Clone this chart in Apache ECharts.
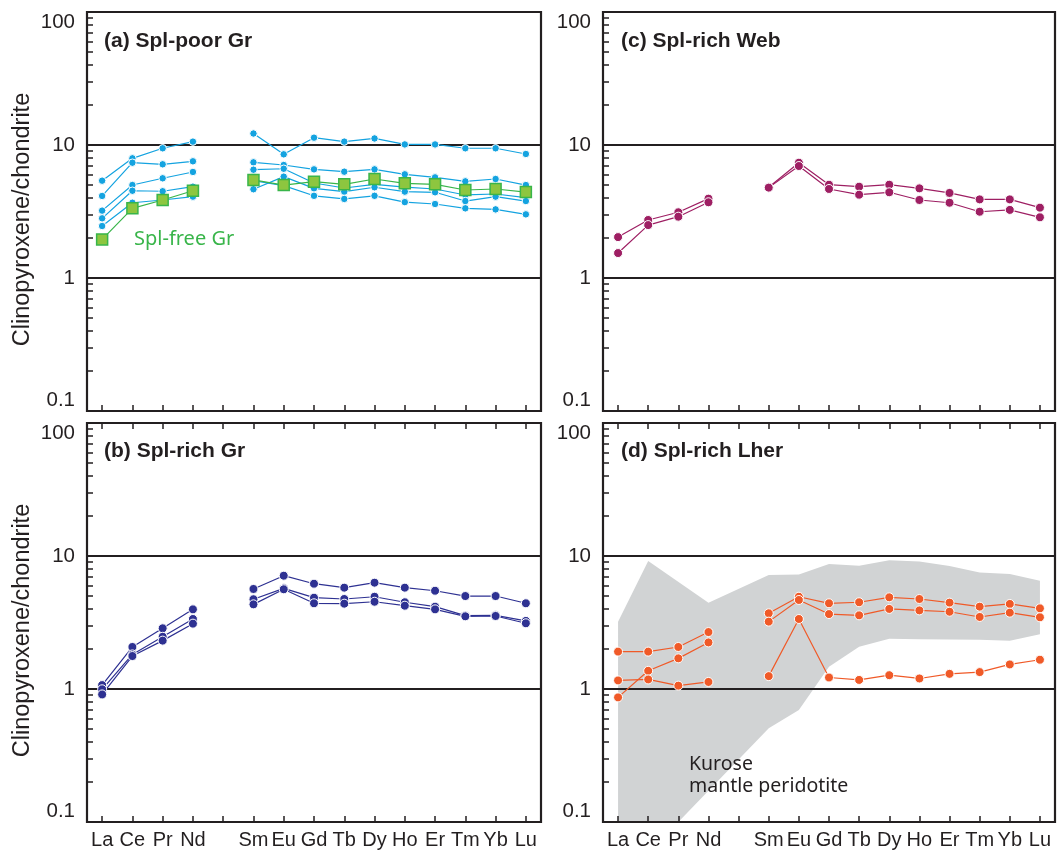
<!DOCTYPE html>
<html>
<head>
<meta charset="utf-8">
<script src="https://cdn.jsdelivr.net/npm/echarts@6/dist/echarts.min.js"></script>
<style>
  html, body { margin: 0; padding: 0; background: #fff; }
  #chart { width: 1058px; height: 854px; }
</style>
</head>
<body>
<div id="chart"></div>
<script>
// Rare earth elements in order (Pm left empty)
const elements = ['La', 'Ce', 'Pr', 'Nd', 'Pm', 'Sm', 'Eu', 'Gd', 'Tb', 'Dy', 'Ho', 'Er', 'Tm', 'Yb', 'Lu'];
const minorTicks = [0.2, 0.3, 0.4, 0.5, 0.6, 0.7, 0.8, 0.9, 2, 3, 4, 5, 6, 7, 8, 9, 20, 30, 40, 50, 60, 70, 80, 90];

// (a) Spl-poor Gr
const splPoorGr1 = [5.39, 7.94, 9.45, 10.6, null, 12.2, 8.51, 11.35, 10.6, 11.2, 10.1, 10.1, 9.45, 9.45, 8.56];
const splPoorGr2 = [4.14, 7.36, 7.16, 7.54, null, 7.41, 7.07, 6.56, 6.30, 6.56, 6.02, 5.71, 5.33, 5.55, 5.00];
const splPoorGr3 = [3.21, 5.00, 5.62, 6.27, null, 6.52, 6.63, 5.18, 4.75, 5.05, 4.83, 4.67, 4.21, 4.28, 4.02];
const splPoorGr4 = [2.81, 4.53, 4.49, 4.86, null, 4.65, 5.78, 4.72, 4.46, 4.81, 4.46, 4.41, 3.79, 4.09, 3.79];
const splPoorGr5 = [2.46, 3.68, 3.86, 4.09, null, 5.40, 4.95, 4.15, 3.93, 4.15, 3.72, 3.60, 3.34, 3.28, 3.01];
const splFreeGr  = [1.95, 3.34, 3.86, 4.53, null, 5.46, 5.00, 5.30, 5.06, 5.55, 5.15, 5.06, 4.59, 4.67, 4.43];

// (b) Spl-rich Gr
const splRichGr1 = [1.07, 2.07, 2.86, 3.97, null, 5.65, 7.11, 6.19, 5.78, 6.30, 5.78, 5.48, 5.00, 5.00, 4.41];
const splRichGr2 = [0.995, 1.82, 2.47, 3.36, null, 4.73, 5.71, 4.86, 4.75, 4.94, 4.49, 4.16, 3.56, 3.58, 3.25];
const splRichGr3 = [0.91, 1.77, 2.31, 3.10, null, 4.33, 5.62, 4.41, 4.38, 4.53, 4.23, 3.97, 3.52, 3.54, 3.12];

// (c) Spl-rich Web
const splRichWeb1 = [2.03, 2.73, 3.12, 3.95, null, 4.81, 7.36, 5.03, 4.86, 5.03, 4.72, 4.36, 3.90, 3.90, 3.38];
const splRichWeb2 = [1.54, 2.50, 2.89, 3.71, null, 4.78, 6.95, 4.67, 4.23, 4.41, 3.86, 3.68, 3.15, 3.25, 2.86];

// (d) Spl-rich Lher
const splRichLher1 = [1.91, 1.91, 2.07, 2.68, null, 3.71, 4.94, 4.41, 4.49, 4.89, 4.75, 4.46, 4.16, 4.36, 4.04];
const splRichLher2 = [0.865, 1.37, 1.70, 2.24, null, 3.21, 4.67, 3.66, 3.58, 4.00, 3.90, 3.81, 3.48, 3.75, 3.46];
const splRichLher3 = [1.16, 1.18, 1.06, 1.13, null, 1.25, 3.36, 1.22, 1.17, 1.27, 1.20, 1.30, 1.34, 1.53, 1.66];

// Kurose mantle peridotite field (element index, normalised value), traced clockwise
const kuroseIdx = [0, 1, 3, 5, 6, 7, 8, 9, 10, 11, 12, 13, 14, 14, 13, 12, 11, 10, 9, 8, 7, 6.17, 5, 2.33, 0];
const kuroseVal = [3.21, 9.17, 4.46, 7.20, 7.27, 8.71, 8.45, 9.29, 9.10, 8.41, 7.50, 7.32, 6.52,
                   2.58, 2.31, 2.35, 2.36, 2.37, 2.39, 2.08, 1.47, 0.695, 0.506, 0.1, 0.1];

const ink = '#231F20';
const sans = '"Liberation Sans", Arial, sans-serif';
const soft = '"Noto Sans", "Open Sans", sans-serif';

const gridBoxes = [
  { left: 87,  top: 12,  width: 454, height: 399 },   // (a)
  { left: 87,  top: 423, width: 454, height: 399 },   // (b)
  { left: 603, top: 12,  width: 452, height: 399 },   // (c)
  { left: 603, top: 423, width: 452, height: 399 }    // (d)
];

const xAxes = [];
const yAxes = [];
gridBoxes.forEach((g, i) => {
  const lowerRow = (i === 1 || i === 3);
  xAxes.push({
    type: 'category', gridIndex: i, data: elements, position: 'bottom', boundaryGap: true,
    axisLine: { show: false },
    axisTick: { show: true, inside: true, length: 6, interval: 0, alignWithLabel: true, lineStyle: { color: ink, width: 1.5 } },
    axisLabel: { show: lowerRow, interval: 0, margin: 8, fontSize: 20, color: ink, fontFamily: sans,
                 formatter: v => (v === 'Pm' ? '' : v) },
    splitLine: { show: false }
  });
  xAxes.push({
    type: 'category', gridIndex: i, data: elements, position: 'top', boundaryGap: true,
    axisLine: { show: false },
    axisTick: { show: lowerRow, inside: true, length: 6, interval: 0, alignWithLabel: true, lineStyle: { color: ink, width: 1.5 } },
    axisLabel: { show: false },
    splitLine: { show: false }
  });
  yAxes.push({
    type: 'log', logBase: 10, gridIndex: i, min: 0.1, max: 100, position: 'left',
    name: i < 2 ? 'Clinopyroxene/chondrite' : '',
    nameLocation: 'middle', nameRotate: 90, nameGap: 52,
    nameTextStyle: { fontSize: 23.5, color: ink, fontFamily: sans, padding: [0, 16, 0, 0] },
    axisLine: { show: false },
    axisTick: { show: false },
    axisLabel: { fontSize: 20.5, color: ink, fontFamily: sans, margin: 12,
                 verticalAlignMinLabel: 'bottom', verticalAlignMaxLabel: 'top',
                 formatter: v => String(parseFloat(Number(v).toPrecision(3))) },
    splitLine: { show: true, lineStyle: { color: ink, width: 1.8 } }
  });
  yAxes.push({
    type: 'log', logBase: 10, gridIndex: i, min: 0.1, max: 100, position: 'left',
    axisLine: { show: false },
    axisLabel: { show: false },
    splitLine: { show: false },
    axisTick: { show: true, inside: true, length: 6, customValues: minorTicks, lineStyle: { color: ink, width: 1.5 } }
  });
});

function sample(grid, values, color, size) {
  return {
    type: 'line', xAxisIndex: grid * 2, yAxisIndex: grid * 2, data: values,
    connectNulls: false, symbol: 'circle', symbolSize: size || 9, showSymbol: true,
    lineStyle: { color: color, width: 1.2 },
    itemStyle: { color: color, borderColor: '#ffffff', borderWidth: 1 },
    emphasis: { disabled: true }, z: 3
  };
}

const blue = '#14A3E0';
const navy = '#2E3192';
const crimson = '#9E1F63';
const orange = '#F05A28';

const series = [
  {
    type: 'custom', xAxisIndex: 6, yAxisIndex: 6, data: [0], silent: true, z: -1,
    renderItem: (params, api) => ({
      type: 'polygon',
      shape: { points: kuroseIdx.map((x, k) => api.coord([x, kuroseVal[k]])) },
      style: { fill: '#D1D3D4' }
    })
  },
  sample(0, splPoorGr1, blue, 7.5),
  sample(0, splPoorGr2, blue, 7.5),
  sample(0, splPoorGr3, blue, 7.5),
  sample(0, splPoorGr4, blue, 7.5),
  sample(0, splPoorGr5, blue, 7.5),
  {
    type: 'line', xAxisIndex: 0, yAxisIndex: 0, data: splFreeGr, connectNulls: false,
    symbol: 'rect', symbolSize: 11, showSymbol: true,
    lineStyle: { color: '#39B54A', width: 1.2 },
    itemStyle: { color: '#8DC63F', borderColor: '#39B54A', borderWidth: 1.5 },
    emphasis: { disabled: true }, z: 4
  },
  sample(1, splRichGr1, navy),
  sample(1, splRichGr2, navy),
  sample(1, splRichGr3, navy),
  sample(2, splRichWeb1, crimson),
  sample(2, splRichWeb2, crimson),
  sample(3, splRichLher1, orange),
  sample(3, splRichLher2, orange),
  sample(3, splRichLher3, orange)
];

const panelTitle = (text, left, top) => ({
  text: text, left: left, top: top, padding: 0,
  textStyle: { fontSize: 21, fontWeight: 'bold', color: ink, fontFamily: sans }
});

const option = {
  backgroundColor: '#ffffff',
  animation: false,
  title: [
    panelTitle('(a) Spl-poor Gr', 104, 31),
    panelTitle('(b) Spl-rich Gr', 104, 441),
    panelTitle('(c) Spl-rich Web', 621, 31),
    panelTitle('(d) Spl-rich Lher', 621, 441),
    { text: 'Spl-free Gr', left: 134, top: 229, padding: 0,
      textStyle: { fontSize: 20, fontWeight: 'normal', color: '#39B54A', fontFamily: soft } },
    { text: 'Kurose\nmantle peridotite', left: 689, top: 753, padding: 0,
      textStyle: { fontSize: 19.5, fontWeight: 'normal', color: ink, fontFamily: soft, lineHeight: 22,
                   backgroundColor: '#ffffff', padding: [0, 1, 0, 0] } }
  ],
  grid: gridBoxes.map(g => Object.assign({ show: true, borderColor: ink, borderWidth: 2.2, containLabel: false }, g)),
  xAxis: xAxes,
  yAxis: yAxes,
  series: series
};

const chart = echarts.init(document.getElementById('chart'), null, { renderer: 'canvas' });
chart.setOption(option);
</script>
</body>
</html>
